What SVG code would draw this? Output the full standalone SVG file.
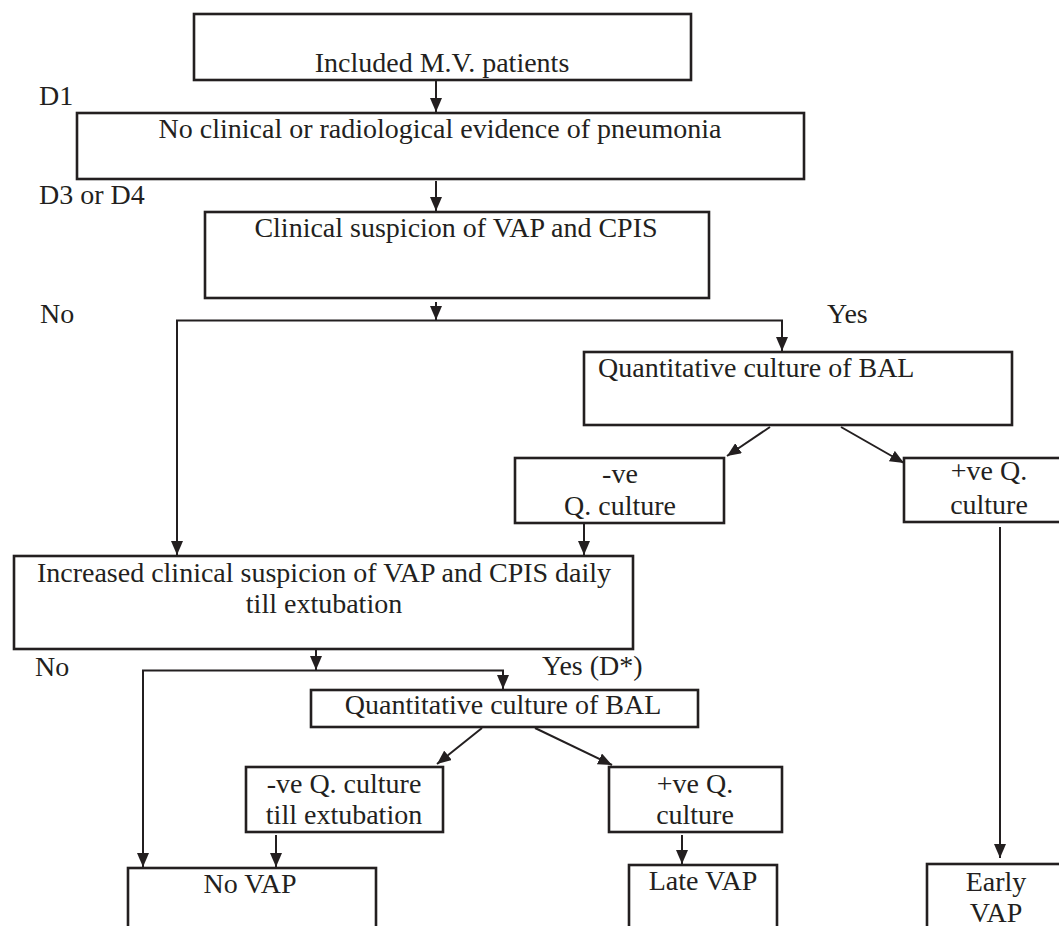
<svg xmlns="http://www.w3.org/2000/svg" width="1059" height="926" viewBox="0 0 1059 926">
<style>
.box{fill:#fff;stroke:#231f20;stroke-width:2.6}
.t{font-family:"Liberation Serif","Times New Roman",serif;font-size:28px;fill:#231f20}
.c{text-anchor:middle}
.ln{fill:none;stroke:#231f20;stroke-width:2}
</style>
<defs>
<marker id="ah" markerUnits="userSpaceOnUse" markerWidth="14" markerHeight="12" refX="14" refY="6" orient="auto">
<path d="M0,0 L14,6 L0,12 z" fill="#231f20"/>
</marker>
</defs>
<rect width="1059" height="926" fill="#fff"/>
<g id="labels">
<text class="t" x="39" y="105">D1</text>
<text class="t" x="39" y="204">D3 or D4</text>
<text class="t" x="40" y="323">No</text>
<text class="t" x="827" y="323">Yes</text>
<text class="t" x="35" y="676">No</text>
<text class="t" x="542" y="675">Yes (D*)</text>
</g>
<g id="n1"><rect class="box" x="194" y="14" width="497" height="66"/><text class="t c" x="442" y="72">Included M.V. patients</text></g>
<g id="n2"><rect class="box" x="77" y="113" width="727" height="66"/><text class="t c" x="440" y="138">No clinical or radiological evidence of pneumonia</text></g>
<g id="n3"><rect class="box" x="205" y="212" width="504" height="86"/><text class="t c" x="456" y="237">Clinical suspicion of VAP and CPIS</text></g>
<g id="n4"><rect class="box" x="584" y="352" width="428" height="73"/><text class="t" x="598" y="377">Quantitative culture of BAL</text></g>
<g id="n5"><rect class="box" x="515" y="458" width="209" height="65"/><text class="t c" x="620" y="483">-ve</text><text class="t c" x="620" y="515">Q. culture</text></g>
<g id="n6"><rect class="box" x="904" y="458" width="170" height="64"/><text class="t c" x="989" y="480">+ve Q.</text><text class="t c" x="989" y="514">culture</text></g>
<g id="n7"><rect class="box" x="14" y="556" width="619" height="93"/><text class="t c" x="324" y="582">Increased clinical suspicion of VAP and CPIS daily</text><text class="t c" x="324" y="613">till extubation</text></g>
<g id="n8"><rect class="box" x="311" y="690" width="387" height="37"/><text class="t c" x="503" y="714">Quantitative culture of BAL</text></g>
<g id="n9"><rect class="box" x="246" y="767" width="197" height="65"/><text class="t c" x="344" y="793">-ve Q. culture</text><text class="t c" x="344" y="824">till extubation</text></g>
<g id="n10"><rect class="box" x="609" y="767" width="173" height="65"/><text class="t c" x="695" y="793">+ve Q.</text><text class="t c" x="695" y="824">culture</text></g>
<g id="n11"><rect class="box" x="128" y="868" width="248" height="80"/><text class="t c" x="250" y="893">No VAP</text></g>
<g id="n12"><rect class="box" x="629" y="865" width="148" height="80"/><text class="t c" x="703" y="890">Late VAP</text></g>
<g id="n13"><rect class="box" x="927" y="864" width="160" height="80"/><text class="t c" x="996" y="891">Early</text><text class="t c" x="996" y="922">VAP</text></g>
<g id="connectors">
<line class="ln" x1="436" y1="80" x2="436" y2="112" marker-end="url(#ah)"/>
<line class="ln" x1="436" y1="181" x2="436" y2="211" marker-end="url(#ah)"/>
<line class="ln" x1="436" y1="302" x2="436" y2="320" marker-end="url(#ah)"/>
<polyline class="ln" points="177,330 177,320.5 782,320.5 782,351" marker-end="url(#ah)"/>
<line class="ln" x1="177" y1="320" x2="177" y2="555" marker-end="url(#ah)"/>
<line class="ln" x1="770" y1="427" x2="727" y2="456" marker-end="url(#ah)"/>
<line class="ln" x1="841" y1="427" x2="904" y2="463" marker-end="url(#ah)"/>
<line class="ln" x1="584" y1="523" x2="584" y2="555" marker-end="url(#ah)"/>
<line class="ln" x1="1000" y1="527" x2="1000" y2="858" marker-end="url(#ah)"/>
<line class="ln" x1="316" y1="649" x2="316" y2="670" marker-end="url(#ah)"/>
<polyline class="ln" points="143,680 143,670.5 503,670.5 503,689" marker-end="url(#ah)"/>
<line class="ln" x1="143" y1="670" x2="143" y2="867" marker-end="url(#ah)"/>
<line class="ln" x1="482" y1="728" x2="437" y2="764" marker-end="url(#ah)"/>
<line class="ln" x1="535" y1="728" x2="612" y2="765" marker-end="url(#ah)"/>
<line class="ln" x1="276" y1="835" x2="276" y2="867" marker-end="url(#ah)"/>
<line class="ln" x1="682" y1="835" x2="682" y2="864" marker-end="url(#ah)"/>
</g>
</svg>
